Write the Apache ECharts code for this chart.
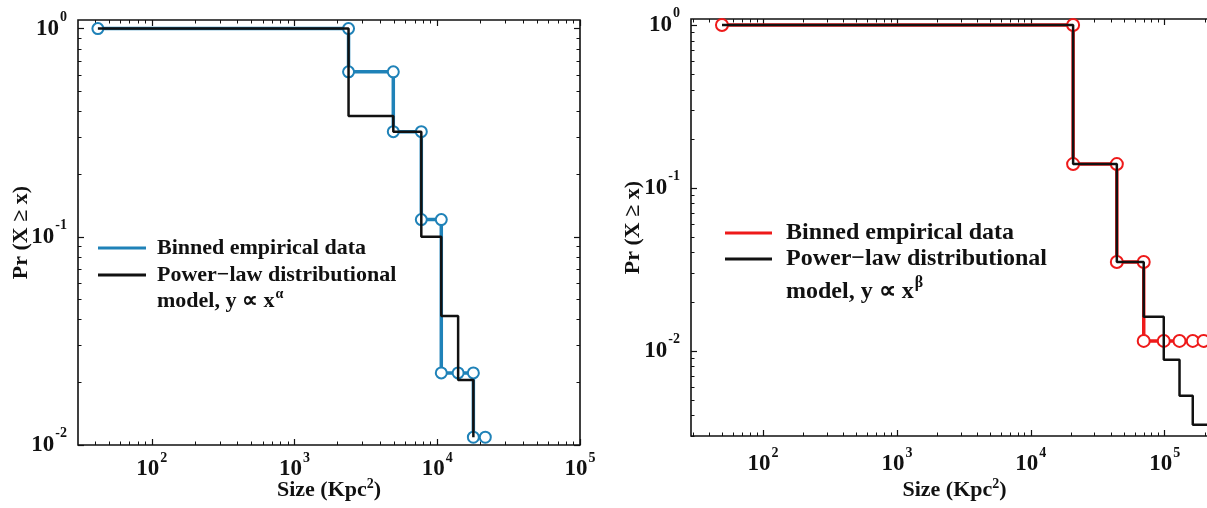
<!DOCTYPE html>
<html>
<head>
<meta charset="utf-8">
<script src="https://cdn.jsdelivr.net/npm/echarts@6/dist/echarts.min.js"></script>
<style>
  html, body { margin: 0; padding: 0; background: #fff; }
  #left { position: absolute; left: 0; top: 0; width: 600px; height: 508px; }
  #right { position: absolute; left: 600px; top: 0; width: 607px; height: 508px; }
</style>
</head>
<body>
<div id="left"></div>
<div id="right"></div>
<script>
// left panel: binned empirical CCDF (blue) and power-law model (black steps)
const leftBinX = [41.9, 2390, 2390, 4920, 4920, 7730, 7730, 10670, 10670, 14000, 17900, 17900, 21700];
const leftBinY = [1, 1, 0.62, 0.62, 0.32, 0.32, 0.121, 0.121, 0.0222, 0.0222, 0.0222, 0.0109, 0.0109];
const leftModelX = [41.9, 2390, 4920, 7730, 10670, 14000, 17900];
const leftModelY = [1, 0.38, 0.32, 0.1, 0.0417, 0.0205, 0.0109];

// right panel: binned empirical CCDF (red) and power-law model (black steps)
const rightBinX = [49.4, 20700, 20700, 43900, 43900, 69700, 69700, 98400, 129000, 162000, 195000];
const rightBinY = [1, 1, 0.14, 0.14, 0.0351, 0.0351, 0.0115, 0.0115, 0.0115, 0.0115, 0.0115];
const rightModelX = [49.4, 20700, 43900, 69700, 98400, 129000, 162000, 250000];
const rightModelY = [1, 0.14, 0.0351, 0.0162, 0.0088, 0.0053, 0.00352, 0.00352];

// ticks (decades carry the 10^n labels, minors are the 2..9 marks)
const xDecades = [10, 100, 1000, 10000, 100000];
const yDecades = [0.001, 0.01, 0.1, 1];
const minorSteps = [2, 3, 4, 5, 6, 7, 8, 9];

const legendNames = ['Binned empirical data', 'Power\u2212law distributional'];
const xName = 'Size (Kpc{s|2})';
const yName = 'Pr (X \u2265 x)';

const FONT = '"Liberation Serif", "Times New Roman", serif';
const INK = '#111';

function pairs(xs, ys) {
  return xs.map((x, i) => [x, ys[i]]);
}

function powLabel(v) {
  const e = Math.log10(v);
  const r = Math.round(e);
  if (Math.abs(e - r) > 1e-6) return '';
  return '{b|10}{s|' + r + '}';
}

function labelRich(size) {
  return {
    b: { fontFamily: FONT, fontWeight: 'bold', fontSize: size, color: INK },
    s: { fontFamily: FONT, fontWeight: 'bold', fontSize: Math.round(size * 0.6), color: INK, padding: [0, 0, size, 1] }
  };
}

function ticksIn(lo, hi, decades) {
  const major = decades.filter((d) => d >= lo && d <= hi);
  const minor = [];
  decades.forEach((d) => minorSteps.forEach((k) => {
    const v = d * k;
    if (v >= lo && v <= hi) minor.push(v);
  }));
  return { major, minor };
}

// value axes in log10 space, used only to draw inner ticks on every side
function tickAxes(pos, lo, hi, decades) {
  const t = ticksIn(lo, hi, decades);
  const base = {
    type: 'value', position: pos, min: Math.log10(lo), max: Math.log10(hi),
    axisLine: { show: false, onZero: false }, splitLine: { show: false },
    axisLabel: { show: false }, silent: true
  };
  return [
    Object.assign({}, base, { axisTick: { show: true, inside: true, length: 6, customValues: t.major.map((v) => Math.log10(v)), lineStyle: { color: INK, width: 1.2 } } }),
    Object.assign({}, base, { axisTick: { show: true, inside: true, length: 3.5, customValues: t.minor.map((v) => Math.log10(v)), lineStyle: { color: INK, width: 1 } } })
  ];
}

function buildOption(p) {
  return {
    animation: false,
    textStyle: { fontFamily: FONT },
    grid: {
      left: p.grid[0], top: p.grid[1], width: p.grid[2], height: p.grid[3],
      show: true, borderColor: INK, borderWidth: 1.6, outerBoundsMode: 'none', containLabel: false
    },
    xAxis: [
      {
        type: 'log', position: 'bottom', min: p.xRange[0], max: p.xRange[1],
        axisLine: { show: false, onZero: false }, axisTick: { show: false }, splitLine: { show: false },
        axisLabel: { margin: p.xLabelMargin, formatter: powLabel, rich: labelRich(p.labelSize) },
        name: xName, nameLocation: 'middle', nameGap: p.xNameGap, nameMoveOverlap: false,
        nameTextStyle: {
          fontFamily: FONT, fontWeight: 'bold', fontSize: p.nameSize, color: INK,
          rich: { s: { fontFamily: FONT, fontWeight: 'bold', fontSize: Math.round(p.nameSize * 0.62), color: INK, padding: [0, 0, Math.round(p.nameSize * 0.6), 0] } }
        }
      },
      ...tickAxes('bottom', p.xRange[0], p.xRange[1], xDecades),
      ...tickAxes('top', p.xRange[0], p.xRange[1], xDecades)
    ],
    yAxis: [
      {
        type: 'log', position: 'left', min: p.yRange[0], max: p.yRange[1],
        axisLine: { show: false, onZero: false }, axisTick: { show: false }, splitLine: { show: false },
        axisLabel: { margin: p.yLabelMargin, formatter: powLabel, rich: labelRich(p.labelSize) },
        name: yName, nameLocation: 'middle', nameGap: p.yNameGap, nameMoveOverlap: false,
        nameTextStyle: { fontFamily: FONT, fontWeight: 'bold', fontSize: p.nameSize, color: INK }
      },
      ...tickAxes('left', p.yRange[0], p.yRange[1], yDecades),
      ...tickAxes('right', p.yRange[0], p.yRange[1], yDecades)
    ],
    legend: {
      orient: 'vertical', left: p.legend[0], top: p.legend[1], padding: 0,
      icon: 'rect', itemWidth: p.legend[2], itemHeight: 3, itemGap: p.legend[3],
      textStyle: { fontFamily: FONT, fontWeight: 'bold', fontSize: p.legendSize, color: INK, padding: [0, 0, 0, p.legend[4]] },
      data: [
        { name: legendNames[0], itemStyle: { color: p.color, borderWidth: 0 } },
        { name: legendNames[1], itemStyle: { color: INK, borderWidth: 0 } }
      ]
    },
    graphic: [{
      type: 'text', x: p.legendTail[0], y: p.legendTail[1],
      style: {
        text: '{a|model, y \u221d x}{s|' + p.exponent + '}',
        rich: {
          a: { fontFamily: FONT, fontWeight: 'bold', fontSize: p.legendSize, fill: INK },
          s: { fontFamily: FONT, fontWeight: 'bold', fontSize: Math.round(p.legendSize * 0.65), fill: INK, padding: [0, 0, Math.round(p.legendSize * 0.7), 1] }
        }
      }
    }],
    series: [
      {
        name: legendNames[0], type: 'line', xAxisIndex: 0, yAxisIndex: 0,
        data: pairs(p.binX, p.binY), color: p.color,
        symbol: 'emptyCircle', symbolSize: p.symbolSize,
        lineStyle: { width: 3.5, color: p.color },
        itemStyle: { color: p.color, borderWidth: 1.8 },
        z: 2
      },
      {
        name: legendNames[1], type: 'line', xAxisIndex: 0, yAxisIndex: 0,
        data: pairs(p.modelX, p.modelY), step: 'end', color: INK,
        symbol: 'none', lineStyle: { width: 2.5, color: INK },
        z: 3
      }
    ]
  };
}

const leftChart = echarts.init(document.getElementById('left'));
leftChart.setOption(buildOption({
  grid: [78, 20, 502, 425],
  xRange: [30.4, 100000], yRange: [0.01, 1.1],
  xLabelMargin: 6, yLabelMargin: 11, xNameGap: 32, yNameGap: 46,
  labelSize: 23, nameSize: 22, legendSize: 22,
  legend: [98, 237, 48, 5, 6], legendTail: [157, 287],
  color: '#1f82b8', exponent: '\u03b1', symbolSize: 11,
  binX: leftBinX, binY: leftBinY, modelX: leftModelX, modelY: leftModelY
}));

const rightChart = echarts.init(document.getElementById('right'));
rightChart.setOption(buildOption({
  grid: [91, 19, 527, 417],
  xRange: [29, 250000], yRange: [0.003, 1.088],
  xLabelMargin: 10, yLabelMargin: 11, xNameGap: 41, yNameGap: 47,
  labelSize: 23, nameSize: 22, legendSize: 24,
  legend: [125, 221, 47, 2, 9], legendTail: [186, 275],
  color: '#ee1a1a', exponent: '\u03b2', symbolSize: 12,
  binX: rightBinX, binY: rightBinY, modelX: rightModelX, modelY: rightModelY
}));
</script>
</body>
</html>
